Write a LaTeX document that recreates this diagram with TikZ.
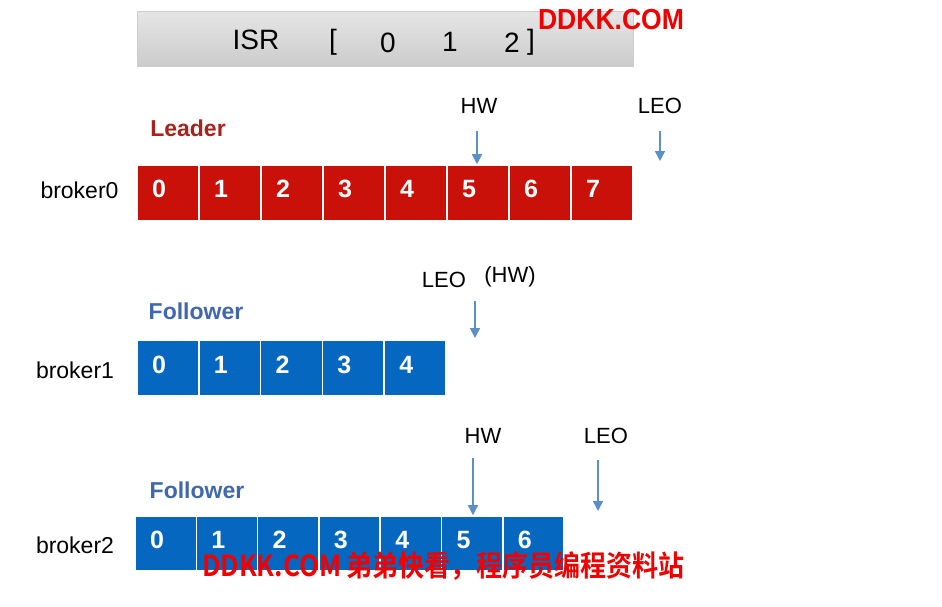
\documentclass[tikz,border=0pt]{standalone}
\usepackage{fontspec}
\usepackage{graphicx}
\setmainfont{Liberation Sans}
\newfontfamily\cjkbold[BoldFont=* Bold]{Noto Sans CJK SC}
\usetikzlibrary{arrows.meta}
\definecolor{cellred}{HTML}{C9110A}
\definecolor{cellblue}{HTML}{0567BF}
\definecolor{leadred}{HTML}{A8231C}
\definecolor{follblue}{HTML}{4068AE}
\definecolor{arrblue}{HTML}{5A8FC8}
\definecolor{wmred}{HTML}{F20000}
\tikzset{
  cellbox/.style={draw=white, line width=1.6pt, minimum height=56pt, inner sep=0pt},
  redcell/.style={cellbox, fill=cellred, minimum width=62pt},
  bluecell/.style={cellbox, fill=cellblue},
  cellnum/.style={text=white, font=\fontsize{25}{25}\selectfont\bfseries, inner sep=0pt},
  lbl/.style={font=\fontsize{22}{22}\selectfont, inner sep=0pt},
  rolelbl/.style={font=\fontsize{23}{23}\selectfont\bfseries, inner sep=0pt},
  isrtxt/.style={font=\fontsize{28}{28}\selectfont, inner sep=0pt},
  ptr/.style={draw=arrblue, line width=1.6pt, -{Triangle[width=10pt,length=10pt]}},
}
\begin{document}
\begin{tikzpicture}[x=1pt,y=-1pt]
\useasboundingbox[fill=white] (0,0) rectangle (942,606);
% ISR bar
\node[minimum width=496pt, minimum height=55pt, inner sep=0pt, top color=gray!20, bottom color=gray!40, draw=gray!40, line width=0.5pt] (isr) at (385,38.5) {};
\node[isrtxt] (isrlbl) at (256,40) {ISR};
\node[isrtxt] (lb) at (333,42) {[};
\node[isrtxt] (i0) at (388,43) {0};
\node[isrtxt] (i1) at (450,42) {1};
\node[isrtxt] (i2) at (512,43) {2};
\node[isrtxt] (rb) at (531,42) {]};
\node[inner sep=0pt, text=wmred] (wm1) at (611,20) {\resizebox{146pt}{\height}{\fontsize{29}{29}\selectfont\bfseries DDKK.COM}};
% broker0
\node[rolelbl, text=leadred] (leader) at (188,128) {Leader};
\node[lbl, font=\fontsize{23}{23}\selectfont] (b0) at (79.5,190) {broker0};
\foreach \i in {0,...,7} {
  \node[redcell] (r\i) at ({168+62*\i},193) {};
  \node[cellnum] (rn\i) at ({159+62*\i},189) {\i};
}
\node[lbl] (hw0) at (479,106) {HW};
\node[lbl] (leo0) at (660,106) {LEO};
\coordinate (hw0s) at (477,131);
\coordinate (leo0s) at (660,131);
\coordinate (leo0e) at (660,161);
\draw[ptr] (hw0s) -- (r5.north -| hw0s);
\draw[ptr] (leo0s) -- (leo0e);
% broker1
\node[rolelbl, text=follblue] (f1) at (196,311) {Follower};
\node[lbl, font=\fontsize{23}{23}\selectfont] (b1) at (75,370) {broker1};
\foreach \i in {0,...,4} {
  \node[bluecell, minimum width=61.8pt] (a\i) at ({167.9+61.8*\i},368) {};
  \node[cellnum] (an\i) at ({159+61.8*\i},365) {\i};
}
\node[lbl] (leo1) at (444,280) {LEO};
\node[lbl] (hw1) at (510,277) {(HW)};
\coordinate (leo1s) at (475,301);
\coordinate (leo1e) at (475,338);
\draw[ptr] (leo1s) -- (leo1e);
% broker2
\node[rolelbl, text=follblue] (f2) at (197,490) {Follower};
\node[lbl, font=\fontsize{23}{23}\selectfont] (b2) at (75,545) {broker2};
\foreach \i in {0,...,6} {
  \node[bluecell, minimum width=61.3pt, minimum height=55pt] (c\i) at ({165.65+61.3*\i},543.5) {};
  \node[cellnum] (cn\i) at ({157+61.3*\i},540) {\i};
}
\node[lbl] (hw2) at (483,436) {HW};
\node[lbl] (leo2) at (606,436) {LEO};
\coordinate (hw2s) at (473,458);
\coordinate (leo2s) at (598,460);
\coordinate (leo2e) at (598,511);
\draw[ptr] (hw2s) -- (c5.north -| hw2s);
\draw[ptr] (leo2s) -- (leo2e);
% bottom watermark
\node[inner sep=0pt, text=wmred] (wm2) at (443,566) {\resizebox{482pt}{\height}{\cjkbold\fontsize{29}{29}\selectfont\bfseries DDKK.COM 弟弟快看，程序员编程资料站}};
\end{tikzpicture}
\end{document}
